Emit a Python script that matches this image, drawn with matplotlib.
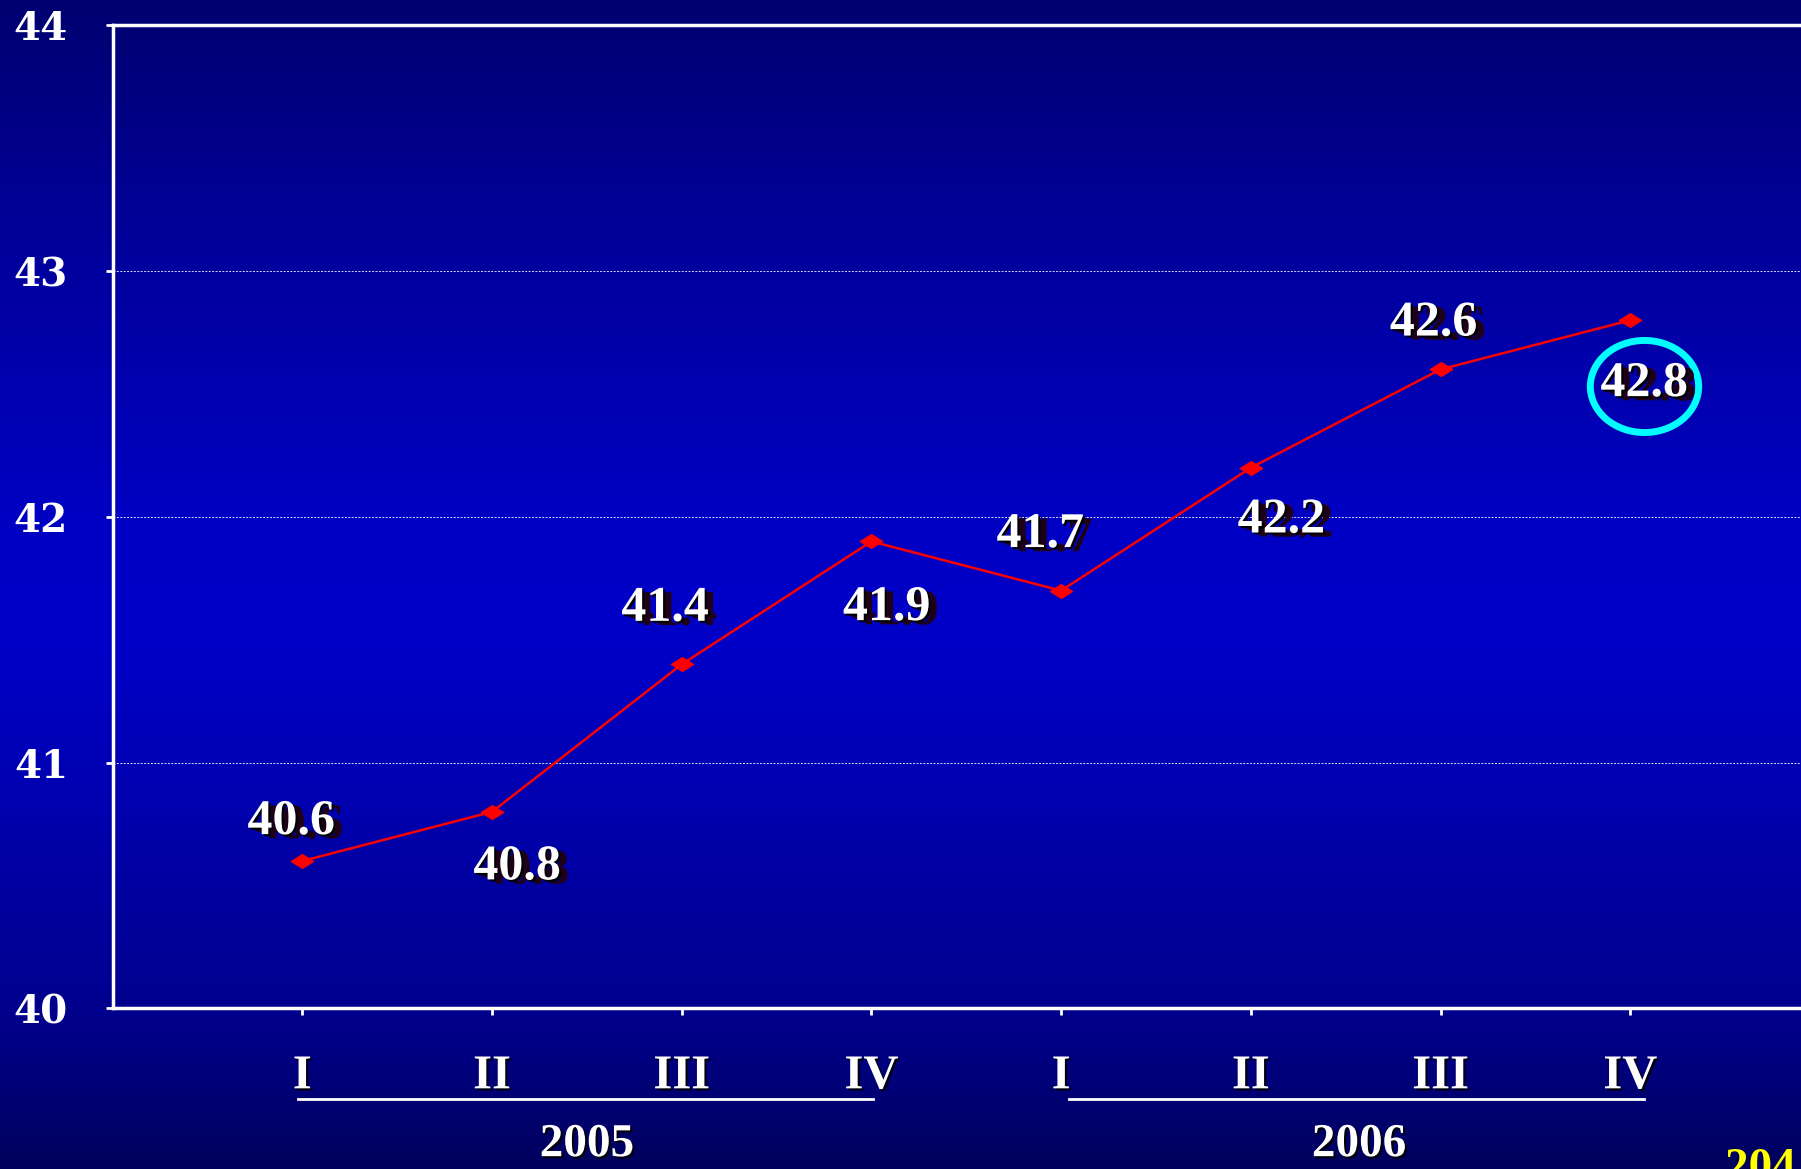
import numpy as np
import matplotlib.pyplot as plt
import matplotlib.patheffects as pe
from matplotlib.path import Path
from matplotlib.transforms import Affine2D, offset_copy, blended_transform_factory
from matplotlib.colors import LinearSegmentedColormap

# данные
quarters = ['I', 'II', 'III', 'IV', 'I', 'II', 'III', 'IV']
values = [40.6, 40.8, 41.4, 41.9, 41.7, 42.2, 42.6, 42.8]
years = ['2005', '2006']
# смещения подписей (в пунктах)
label_dx = [-8, 18, -12, 11, -15, 22, -5, 10]
label_dy = [28, -40, 40, -48, 40, -38, 33, -46]

plt.rcParams['font.family'] = ['Liberation Serif', 'DejaVu Serif']
plt.rcParams['font.weight'] = 'bold'

fig = plt.figure(figsize=(18.01, 11.69), dpi=100)

# градиентный фон
bg = fig.add_axes([0, 0, 1, 1], zorder=-10)
cmap = LinearSegmentedColormap.from_list('bg', [(0.0, '#00005c'), (0.12, '#00008a'),
                                                 (0.45, '#0000c8'), (0.55, '#0000c4'),
                                                 (0.85, '#000090'), (1.0, '#000070')])
bg.imshow(np.linspace(0, 1, 256).reshape(-1, 1), aspect='auto', cmap=cmap,
          extent=[0, 1, 0, 1], origin='lower')
bg.axis('off')

ax = fig.add_axes([0.0625, 0.1373, 0.9375, 0.8411])
ax.set_facecolor('none')
x = np.arange(len(values))

diamond = Path([(-1, 0), (0, 0.62), (1, 0), (0, -0.62), (-1, 0)],
               [Path.MOVETO, Path.LINETO, Path.LINETO, Path.LINETO, Path.CLOSEPOLY])
ax.plot(x, values, color='#ff0000', lw=1.8, marker=diamond, ms=16,
        mfc='#ff0000', mec='#ff0000', zorder=3)

shadow = [pe.SimplePatchShadow(offset=(6, -3), shadow_rgbFace='#1e0018', alpha=1),
          pe.SimplePatchShadow(offset=(1.5, -1.5), shadow_rgbFace='black', alpha=1),
          pe.Normal()]
small_shadow = [pe.SimplePatchShadow(offset=(1.5, -1.5), shadow_rgbFace='black', alpha=0.9),
                pe.Normal()]

for xi, v, dx, dy in zip(x, values, label_dx, label_dy):
    ax.annotate(f'{v:.1f}', (xi, v), xytext=(dx, dy), textcoords='offset points',
                ha='center', va='center', fontsize=36, color='white',
                fontweight='bold', path_effects=shadow, zorder=5)

# овал вокруг последнего значения
ring = Path.unit_circle().transformed(Affine2D().scale(1, 0.85))
ax.plot(x[-1], values[-1], marker=ring, ms=78, mfc='none', mec='#00ffff', mew=5,
        transform=offset_copy(ax.transData, fig=fig, x=label_dx[-1], y=label_dy[-1] - 1,
                              units='points'), zorder=4)

ax.set_xlim(-1, 7.9)
ax.set_ylim(40, 44)
ax.set_yticks([40, 41, 42, 43, 44])
ax.set_yticklabels(['40', '41', '42', '43', '44'], family='DejaVu Serif',
                   fontsize=28, fontweight='bold', color='white')
ax.set_xticks(x)
ax.set_xticklabels(quarters, fontsize=35, color='white')
for t in ax.get_xticklabels():
    t.set_path_effects(small_shadow)
ax.tick_params(axis='y', colors='white', length=5, width=2, pad=27)
ax.tick_params(axis='x', colors='white', length=5, width=2, pad=28)

for side in ['left', 'bottom', 'top']:
    ax.spines[side].set_color('white')
    ax.spines[side].set_linewidth(2.5)
ax.spines['right'].set_visible(False)
ax.grid(axis='y', color='#d8d8ff', lw=0.7, linestyle=(0, (2, 1.5)))

# подчёркивания и годы
tr = blended_transform_factory(ax.transData, ax.transAxes)
for i, year in enumerate(years):
    a, b = x[4 * i], x[4 * i + 3]
    ax.plot([a - 0.02 + 0.06 * i, b + 0.01 + 0.06 * i], [-0.092, -0.092], color='white',
            lw=2, transform=tr, clip_on=False)
    ax.text((a + b) / 2 + 0.07 * i, -0.139, year, transform=tr, ha='center', va='center',
            fontsize=34, color='white', path_effects=small_shadow)

fig.text(0.958, 0.018, '204', color='#ffff00', fontsize=34, ha='left', va='top')

plt.savefig('out.png', dpi=100)
